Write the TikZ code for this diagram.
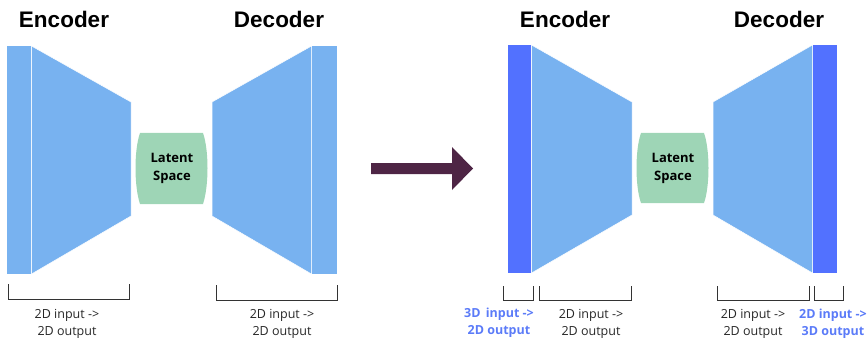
\documentclass[tikz,border=0pt]{standalone}
\usepackage{fontspec}
\setmainfont{Open Sans}
\newfontfamily\headfont{Liberation Sans}
\usepackage{tikz}
\usetikzlibrary{arrows.meta}
\usetikzlibrary{positioning}

\definecolor{layerblue}{HTML}{78B2F0}
\definecolor{slabblue}{HTML}{5271FF}
\definecolor{latentgreen}{HTML}{9ED5B6}
\definecolor{arrowplum}{HTML}{4E2545}
\definecolor{notegray}{HTML}{333333}
\definecolor{noteblue}{HTML}{5B7BF8}

\begin{document}
\begin{tikzpicture}[x=1pt, y=-1pt,
                head/.style = {font=\headfont\bfseries\fontsize{22.5}{26}\selectfont, inner sep = 0pt},
                layer/.style = {fill=layerblue, draw=white, line width=0.5pt},
                inslab/.style = {fill=layerblue},
                dimslab/.style = {fill=slabblue},
                latent/.style = {fill=latentgreen},
                brace/.style = {draw=notegray, line width=0.9pt},
                note/.style = {align=center, font=\fontsize{12.5}{17}\selectfont, text=black!85, inner sep = 0pt},
                dimnote/.style = {note, font=\bfseries\fontsize{12.5}{17}\selectfont, text=noteblue},
            ]
            \useasboundingbox (0,0) rectangle (867,342);

            % plain autoencoder
            \node (enc) [head] at (64,19) {Encoder};
            \node (dec) [head] at (279,19) {Decoder};

            \fill[inslab] (7,46) rectangle (31,274);
            \path[layer] (31.5,46) -- (131,102) -- (131,216) -- (31.5,274) -- cycle;
            \path[latent] (140,133) -- (203,133)
                .. controls (209,150) and (209,186) .. (203,204)
                -- (140,204) .. controls (134,186) and (134,150) .. (140,133) -- cycle;
            \node at (172,168.5) [font=\bfseries\fontsize{13}{18}\selectfont, align=center] {Latent\\Space};
            \path[layer] (212,102) -- (311.5,46) -- (311.5,274) -- (212,216) -- cycle;
            \fill[inslab] (312,46) rectangle (337,274);

            \draw[brace] (8,284) |- (129,299) -- (129,284);
            \draw[brace] (216,285) |- (337,300) -- (337,285);
            \node (n1) [note] at (67,323.5) {2D input ->\\2D output};
            \node (n2) [note] at (282,324) {2D input ->\\2D output};

            % block arrow to the extended model
            \fill[arrowplum] (371,163) -- (452,163) -- (452,147) -- (473,168.5)
                -- (452,190) -- (452,174) -- (371,174) -- cycle;

            % autoencoder with 3D input and output layers
            \node (enc3) [head] at (565,19) {Encoder};
            \node (dec3) [head] at (779,19) {Decoder};

            \fill[dimslab] (508,45) rectangle (531,273);
            \path[layer] (531.5,45) -- (632,102) -- (632,215) -- (531.5,273) -- cycle;
            \path[latent] (641,133) -- (704,133)
                .. controls (710,150) and (710,186) .. (704,203)
                -- (641,203) .. controls (635,186) and (635,150) .. (641,133) -- cycle;
            \node at (673,168) [font=\bfseries\fontsize{13}{18}\selectfont, align=center] {Latent\\Space};
            \path[layer] (713,102) -- (812.5,45) -- (812.5,273) -- (713,215) -- cycle;
            \fill[dimslab] (813,45) rectangle (837,273);

            \draw[brace] (503,286) |- (533,300) -- (533,286);
            \draw[brace] (539,286) |- (631,300) -- (631,286);
            \draw[brace] (717,286) |- (809,300) -- (809,286);
            \draw[brace] (814,286) |- (843,300) -- (843,286);
            \node (n3) [dimnote] at (499,323) {3D\, input ->\\2D output};
            \node (n4) [note] at (591,324) {2D input ->\\2D output};
            \node (n5) [note] at (753,324) {2D input ->\\2D output};
            \node (n6) [dimnote] at (833,324) {2D input ->\\3D output};
        \end{tikzpicture}
\end{document}
